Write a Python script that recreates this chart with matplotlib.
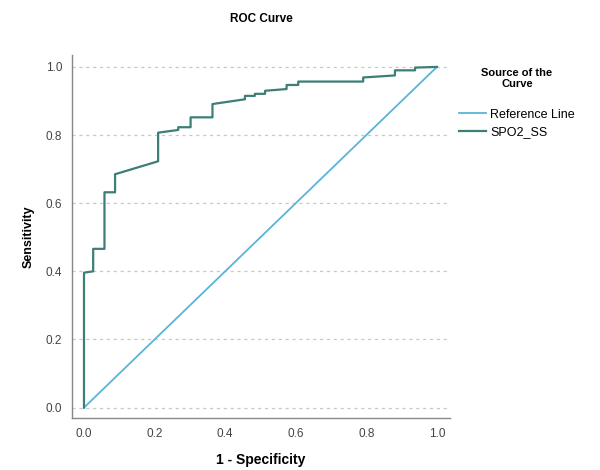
import matplotlib
matplotlib.use("Agg")
from matplotlib import pyplot as plt

plt.rcParams['font.family'] = ['Liberation Sans', 'DejaVu Sans']

# ROC points for SPO2_SS (1 - specificity, sensitivity)
fpr = [0.0, 0.0, 0.026, 0.026, 0.058, 0.058, 0.088, 0.088, 0.21, 0.21,
       0.267, 0.267, 0.302, 0.302, 0.364, 0.364, 0.456, 0.456, 0.484, 0.484,
       0.513, 0.513, 0.574, 0.574, 0.607, 0.607, 0.791, 0.791, 0.881, 0.881,
       0.938, 0.938, 1.0]
tpr = [0.0, 0.396, 0.40, 0.466, 0.466, 0.632, 0.632, 0.685, 0.723, 0.807,
       0.815, 0.823, 0.823, 0.852, 0.852, 0.891, 0.905, 0.915, 0.915, 0.921,
       0.921, 0.93, 0.935, 0.947, 0.947, 0.957, 0.957, 0.969, 0.975, 0.99,
       0.99, 0.998, 1.0]
ref = [0.0, 1.0]

ticks = [0.0, 0.2, 0.4, 0.6, 0.8, 1.0]
tick_labels = ['0.0', '0.2', '0.4', '0.6', '0.8', '1.0']

ref_color = '#5ab4d8'
curve_color = '#3d7e78'

fig = plt.figure(figsize=(6, 4.7), dpi=100)
ax = fig.add_axes([0.12, 0.111, 0.63, 0.772])

for t in ticks:
    ax.axhline(t, color='#c8c8c8', lw=0.9, ls=(0, (2.5, 3)), zorder=0)

ax.plot(ref, ref, color=ref_color, lw=1.3, label='Reference Line')
ax.plot(fpr, tpr, color=curve_color, lw=1.6, label='SPO2_SS')

ax.set_xlim(-0.034, 1.037)
ax.set_ylim(-0.03, 1.035)
ax.set_xticks(ticks)
ax.set_xticklabels(tick_labels)
ax.set_yticks(ticks)
ax.set_yticklabels(tick_labels)
ax.tick_params(length=0, labelsize=8.5, colors='#444444', pad=7)

for s in ['top', 'right']:
    ax.spines[s].set_visible(False)
for s in ['left', 'bottom']:
    ax.spines[s].set_color('#888888')
    ax.spines[s].set_linewidth(1.0)

ax.set_title('ROC Curve', fontsize=8.5, fontweight='bold', pad=24)
ax.set_xlabel('1 - Specificity', fontsize=10, fontweight='bold', labelpad=10)
ax.set_ylabel('Sensitivity', fontsize=9, fontweight='bold', labelpad=8)

leg = ax.legend(title='Source of the\nCurve', loc='upper left',
                bbox_to_anchor=(0.995, 0.995), frameon=False, fontsize=9,
                handlelength=2.1, handletextpad=0.35, labelspacing=0.45)
leg.get_title().set_fontweight('bold')
leg.get_title().set_fontsize(8)
leg.get_title().set_linespacing(1.15)
leg.get_title().set_ha('center')
leg._legend_box.align = 'center'
leg._legend_box.sep = 14

fig.savefig('out.png', dpi=100)
